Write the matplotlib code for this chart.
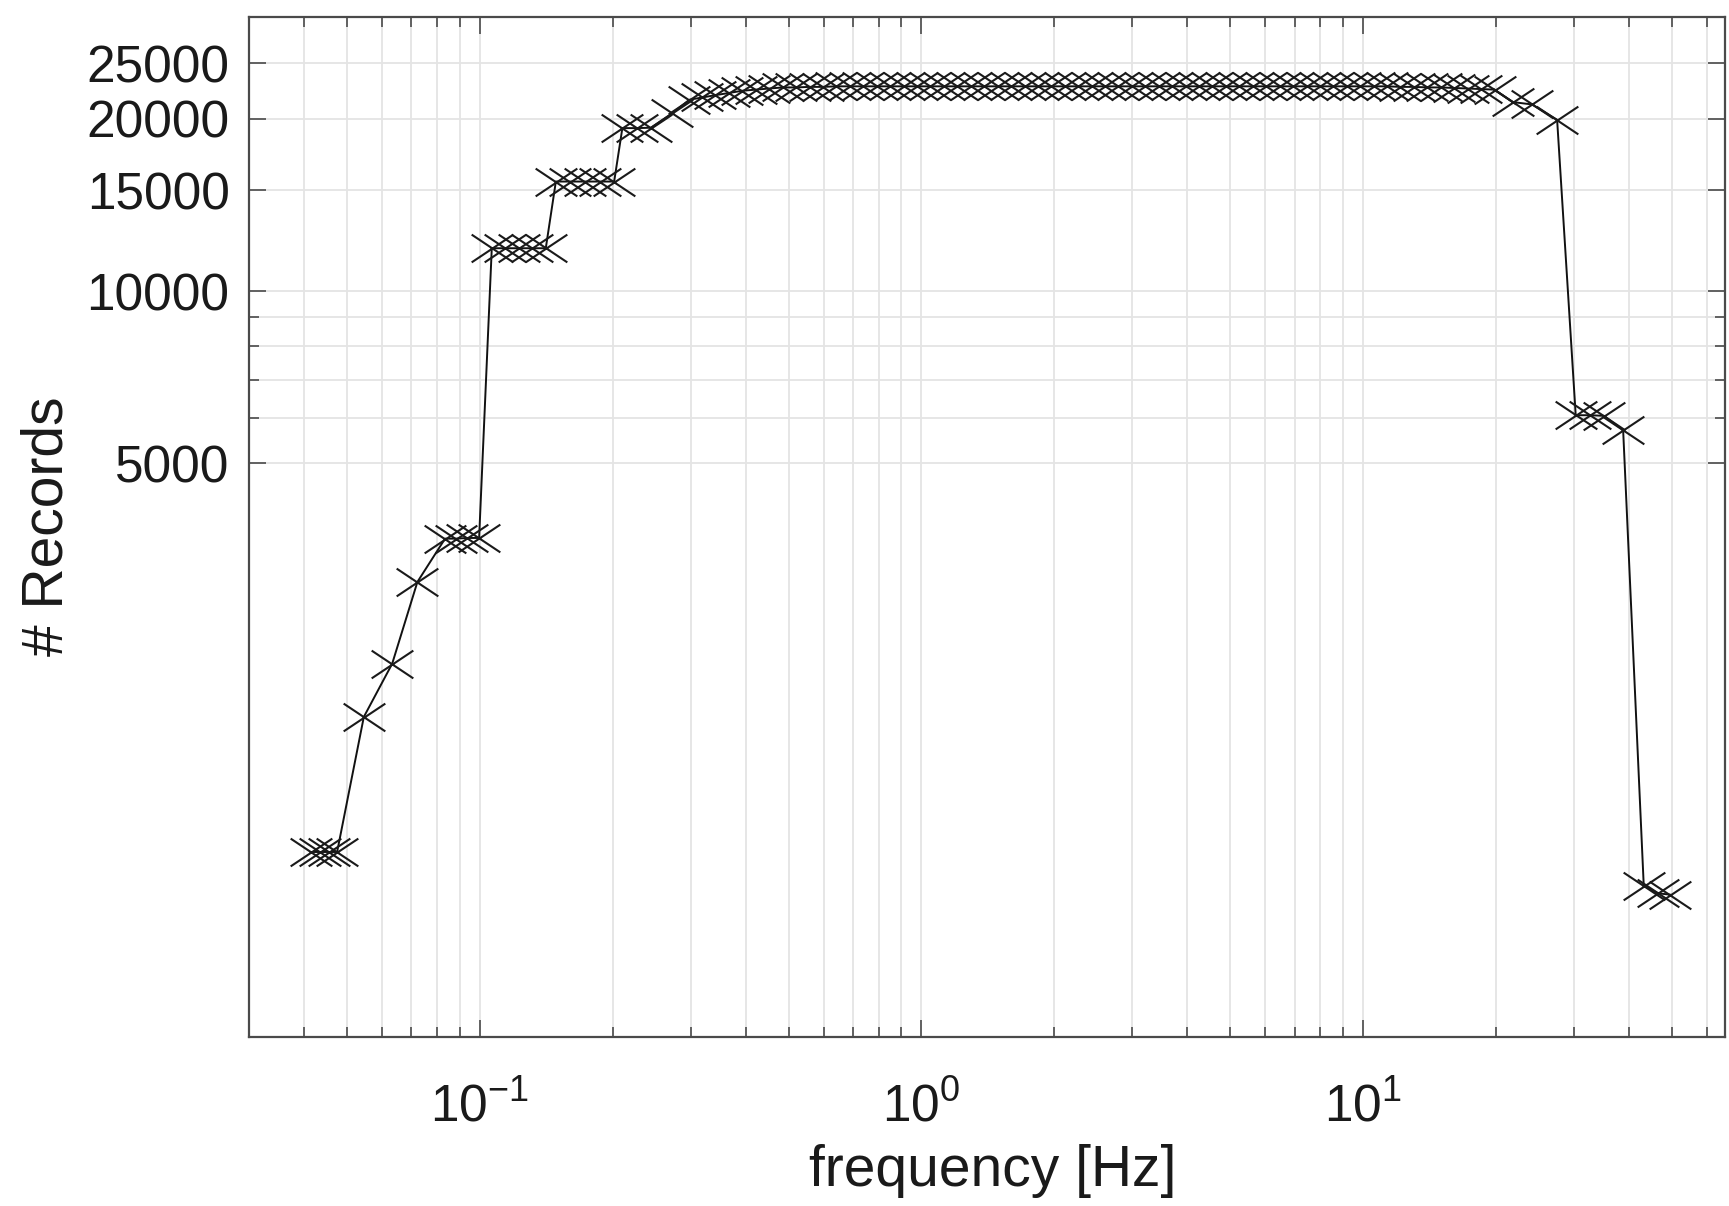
import matplotlib
matplotlib.use('Agg')
import matplotlib.pyplot as plt
from matplotlib.path import Path
from matplotlib.ticker import (FixedLocator, FixedFormatter, LogLocator,
                               NullFormatter, LogFormatterMathtext)

# ---------------- data ----------------
frequency_hz = [
    0.0415, 0.0434, 0.0455, 0.0475, 0.0546, 0.0633, 0.0722,
    0.0834, 0.0883, 0.0936, 0.0996,
    0.1064, 0.1141, 0.1225, 0.1314, 0.1410,
    0.1486, 0.1603, 0.1730, 0.1866, 0.2014,
    0.2102, 0.2265, 0.2439, 0.2730, 0.2980, 0.3188, 0.3410,
    0.3667, 0.3931, 0.4217, 0.4522, 0.4851, 0.5203, 0.5580, 0.5985,
    0.6419, 0.6885, 0.7386, 0.7922, 0.8497, 0.9113, 0.9772, 1.048,
    1.124, 1.206, 1.293, 1.387, 1.488, 1.596, 1.712, 1.835, 1.968,
    2.111, 2.264, 2.429, 2.605, 2.793, 2.996, 3.214, 3.447, 3.697,
    3.965, 4.252, 4.560, 4.891, 5.246, 5.626, 6.035, 6.474, 6.943,
    7.446, 7.986, 8.565, 9.186, 9.851, 10.57, 11.33, 12.15, 13.04,
    13.98, 14.99, 16.08, 17.25, 18.50, 19.84,
    21.8, 24.1, 27.5, 30.3, 32.6, 35.1, 38.8, 43.2, 46.5, 49.5,
]
n_records = [
    1045, 1045, 1045, 1045, 1800, 2230, 3100,
    3690, 3690, 3700, 3700,
    11880, 11880, 11880, 11880, 11880,
    15540, 15540, 15540, 15540, 15540,
    19270, 19270, 19300, 20480, 21600, 21800, 22000,
    22200, 22400, 22500, 22600, 22700, 22700, 22750, 22750,
    22800, 22800, 22800, 22800, 22800, 22800, 22800, 22800,
    22800, 22800, 22800, 22800, 22800, 22800, 22800, 22800, 22800,
    22800, 22800, 22800, 22800, 22800, 22800, 22800, 22800, 22800,
    22800, 22800, 22800, 22800, 22800, 22800, 22800, 22800, 22800,
    22800, 22800, 22800, 22800, 22800, 22800, 22800, 22750, 22750,
    22700, 22700, 22650, 22600, 22550, 22500,
    21400, 21200, 19930, 6065, 6065, 6050, 5714, 913, 885, 880,
]
ytick_values = [5000, 10000, 15000, 20000, 25000]
ytick_labels = ['5000', '10000', '15000', '20000', '25000']
yminor_values = [6000, 7000, 8000, 9000]
x_label = 'frequency [Hz]'
y_label = '# Records'

# ---------------- style ----------------
plt.rcParams['font.family'] = ['Liberation Sans', 'DejaVu Sans']
plt.rcParams['mathtext.fontset'] = 'custom'
plt.rcParams['mathtext.rm'] = 'Liberation Sans'
plt.rcParams['mathtext.it'] = 'Liberation Sans:italic'
plt.rcParams['mathtext.bf'] = 'Liberation Sans:bold'
plt.rcParams['mathtext.default'] = 'regular'

fig = plt.figure(figsize=(17.29, 12.06), dpi=100)
ax = fig.add_axes([0.144, 0.1405, 0.8537, 0.8458])

# slightly wide "x" marker (reference image is horizontally stretched)
xmark = Path([(-1.5, -1.0), (1.5, 1.0), (-1.5, 1.0), (1.5, -1.0)],
             [Path.MOVETO, Path.LINETO, Path.MOVETO, Path.LINETO])

ax.plot(frequency_hz, n_records, color='#111111', lw=1.4,
        marker=xmark, markersize=30, markeredgewidth=1.5,
        markerfacecolor='none', markeredgecolor='#1a1a1a', zorder=3)

ax.set_xscale('log')
ax.set_yscale('log')
ax.set_xlim(0.03, 66)
ax.set_ylim(497, 30200)

ax.xaxis.set_major_locator(LogLocator(base=10, numticks=20))
ax.xaxis.set_major_formatter(LogFormatterMathtext())
ax.xaxis.set_minor_locator(LogLocator(base=10, subs=[2, 3, 4, 5, 6, 7, 8, 9], numticks=40))
ax.xaxis.set_minor_formatter(NullFormatter())

ax.yaxis.set_major_locator(FixedLocator(ytick_values))
ax.yaxis.set_major_formatter(FixedFormatter(ytick_labels))
ax.yaxis.set_minor_locator(FixedLocator(yminor_values))
ax.yaxis.set_minor_formatter(NullFormatter())

ax.grid(True, which='both', color='#e4e4e4', lw=1.3)
ax.set_axisbelow(True)

for sp in ax.spines.values():
    sp.set_color('#4a4a4a')
    sp.set_linewidth(1.6)

ax.tick_params(which='both', direction='in', top=True, right=True,
               color='#4a4a4a', width=1.2)
ax.tick_params(which='major', length=12)
ax.tick_params(which='minor', length=7)
ax.tick_params(axis='y', which='major', labelsize=37, pad=14, labelcolor='#1a1a1a')
ax.tick_params(axis='x', which='major', labelsize=37, pad=33, labelcolor='#1a1a1a')

ax.set_xlabel(x_label, fontsize=41, color='#1a1a1a')
ax.set_ylabel(y_label, fontsize=41, color='#1a1a1a')
ax.xaxis.set_label_coords(0.504, -0.105)
ax.yaxis.set_label_coords(-0.118, 0.5)

fig.savefig('out.png', dpi=100)
